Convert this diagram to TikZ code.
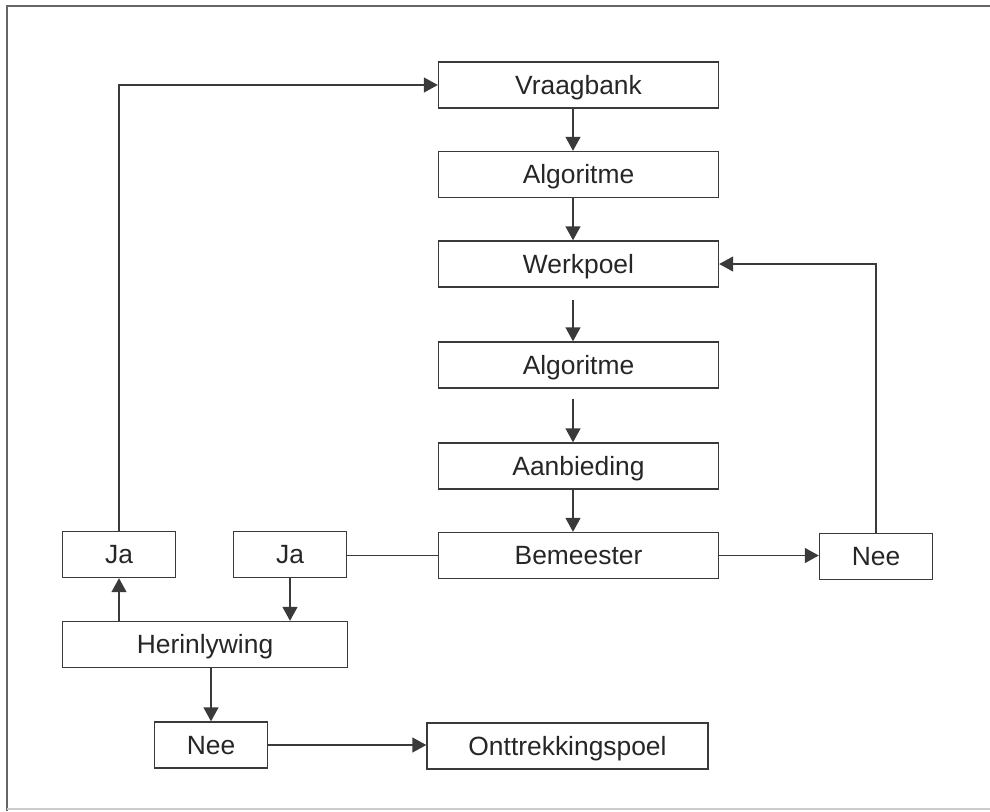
\documentclass[tikz,border=0pt]{standalone}
\usepackage{fontspec}
\setmainfont{Liberation Sans}
\usetikzlibrary{arrows.meta}
\definecolor{ink}{HTML}{3A3A3A}
\definecolor{txt}{HTML}{262626}
\tikzset{
  flowbox/.style={draw=ink, line width=0.7pt, minimum height=23pt, inner sep=0pt,
    text height=9.4pt, text depth=0pt,
    font=\fontsize{13.2pt}{15pt}\selectfont, text=txt},
  widebox/.style={flowbox, minimum width=140pt},
  smallbox/.style={flowbox, minimum width=56.5pt},
  conn/.style={draw=ink, line width=0.7pt},
  arr/.style={conn, -{Triangle[length=7pt,width=7.5pt]}}
}
\begin{document}
\begin{tikzpicture}[x=0.5pt,y=-0.5pt]
\useasboundingbox (0,0) rectangle (990,811);
% frame
\draw[draw=gray!80!black, line width=0.8pt] (7,811) -- (7,6) -- (990,6);
\draw[draw=gray!40, line width=0.8pt] (7,809) -- (990,809);
% nodes
\node[widebox] (vb) at (578.5,85) {Vraagbank};
\node[widebox] (al1) at (578.5,174.5) {Algoritme};
\node[widebox] (wp) at (578.5,264) {Werkpoel};
\node[widebox] (al2) at (578.5,365) {Algoritme};
\node[widebox] (ab) at (578.5,466) {Aanbieding};
\node[widebox] (bm) at (578.5,555.5) {Bemeester};
\node[smallbox] (neer) at (876,556.5) {Nee};
\node[smallbox] (jal) at (119,554.5) {Ja};
\node[smallbox] (jam) at (290,554.5) {Ja};
\node[flowbox, minimum width=142.5pt] (her) at (205,644.5) {Herinlywing};
\node[smallbox] (neeb) at (211,745) {Nee};
\node[flowbox, minimum width=140.5pt] (ont) at (567.5,746) {Onttrekkingspoel};
% vertical chain
\draw[arr] ([xshift=-2.75pt]vb.south) -- ([xshift=-2.75pt]al1.north);
\draw[arr] ([xshift=-2.75pt]al1.south) -- ([xshift=-2.75pt]wp.north);
\draw[arr, shorten <=6pt] ([xshift=-2.75pt]wp.south) -- ([xshift=-2.75pt]al2.north);
\draw[arr, shorten <=5pt] ([xshift=-2.75pt]al2.south) -- ([xshift=-2.75pt]ab.north);
\draw[arr] ([xshift=-2.75pt]ab.south) -- ([xshift=-2.75pt]bm.north);
% side connectors
\draw[arr] (bm.east) -- (bm.east -| neer.west);
\draw[arr] (neer.north) |- (wp.east);
\draw[conn] (bm.west) -- (bm.west -| jam.east);
\draw[arr] (jal.north) |- (vb.west);
\draw[arr] (jam.south) -- (jam.south |- her.north);
\draw[arr] (jal.south |- her.north) -- (jal.south);
\draw[arr] (neeb.north |- her.south) -- (neeb.north);
\draw[arr] (neeb.east) -- (neeb.east -| ont.west);
\end{tikzpicture}
\end{document}
